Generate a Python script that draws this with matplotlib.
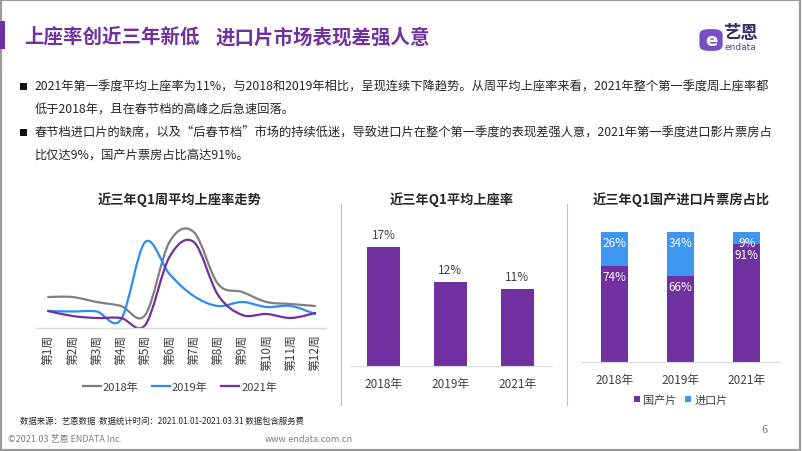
import matplotlib
matplotlib.use("Agg")
import matplotlib.pyplot as plt
import numpy as np
from matplotlib.path import Path
from matplotlib.patches import PathPatch, Rectangle, FancyBboxPatch
from matplotlib.lines import Line2D

plt.rcParams['font.family'] = ['Noto Sans CJK SC', 'DejaVu Sans']

# ---------------- data ----------------
weeks = ['第1周', '第2周', '第3周', '第4周', '第5周', '第6周',
         '第7周', '第8周', '第9周', '第10周', '第11周', '第12周']
rate_2018 = [12.4, 12.4, 10.4, 8.8, 5.2, 34.4, 38.4, 17.6, 14.4, 10.4, 9.6, 8.8]
rate_2019 = [6.8, 6.6, 6.6, 3.4, 34.4, 21.6, 12.8, 8.8, 10.4, 8.4, 8.8, 5.6]
rate_2021 = [6.8, 4.8, 4.0, 4.0, 1.2, 28.4, 34.4, 13.2, 5.2, 5.6, 4.0, 6.0]
line_series = ['2018年', '2019年', '2021年']

years = ['2018年', '2019年', '2021年']
avg_rate = [17, 12, 11]

domestic_share = [74, 66, 91]
imported_share = [26, 34, 9]
share_series = ['国产片', '进口片']

# ---------------- style ----------------
PURPLE = '#7030A0'
BLUE_LINE = '#2E8CF0'
BLUE_BAR = '#3D96F0'
GRAY = '#7F7F7F'
TEXT = '#262626'
AXIS = '#D9D9D9'

W, H = 802, 452
fig = plt.figure(figsize=(W / 100, H / 100), dpi=100)


def fx(x):
    return x / W


def fy(y):
    return 1 - y / H


def ftext(x, y, s, **kw):
    fig.text(fx(x), fy(y), s, **kw)


# outer frame
fig.patches.append(Rectangle((0.001, 0.002), 0.997, 0.995, transform=fig.transFigure,
                             fill=False, edgecolor='#9A9A9A', linewidth=1.6))

# title bar + title
fig.patches.append(Rectangle((fx(0), fy(50)), fx(5), 28 / H, transform=fig.transFigure,
                             facecolor=PURPLE, edgecolor='none'))
ftext(24, 37.5, '上座率创近三年新低', fontsize=14, fontweight='bold',
      color=PURPLE, va='center', ha='left')
ftext(216, 37.5, '进口片市场表现差强人意', fontsize=14, fontweight='bold',
      color=PURPLE, va='center', ha='left')

# logo
fig.patches.append(FancyBboxPatch((fx(701), fy(51)), 20 / W, 20 / H, transform=fig.transFigure,
                                  boxstyle='round,pad=0.002,rounding_size=0.012',
                                  facecolor='#7B4FC4', edgecolor='none'))
ftext(711, 41, 'e', fontsize=13, fontweight='bold', color='white', ha='center', va='center',
      family=['DejaVu Sans'])
ftext(740, 33, '艺恩', fontsize=12.5, fontweight='bold', color='#3A2A6A', ha='center', va='center')
ftext(740, 48, 'endata', fontsize=6.5, color='#5B3E96', ha='center', va='center',
      family=['DejaVu Sans'])

# bullets
bul = [
    (87, '2021年第一季度平均上座率为11%，与2018和2019年相比，呈现连续下降趋势。从周平均上座率来看，2021年整个第一季度周上座率都', True),
    (109, '低于2018年，且在春节档的高峰之后急速回落。', False),
    (133, '春节档进口片的缺席，以及“后春节档”市场的持续低迷，导致进口片在整个第一季度的表现差强人意，2021年第一季度进口影片票房占', True),
    (155, '比仅达9%，国产片票房占比高达91%。', False),
]
for y, s, has_bullet in bul:
    if has_bullet:
        fig.patches.append(Rectangle((fx(20), fy(y + 3.5)), 7 / W, 7 / H, transform=fig.transFigure,
                                     facecolor='#111111', edgecolor='none'))
    ftext(35, y, s, fontsize=8.8, color=TEXT, va='center', ha='left')

# chart titles
ftext(180, 200, '近三年Q1周平均上座率走势', fontsize=9.5, fontweight='bold', color=TEXT, ha='center', va='center')
ftext(452, 200, '近三年Q1平均上座率', fontsize=9.5, fontweight='bold', color=TEXT, ha='center', va='center')
ftext(681, 200, '近三年Q1国产进口片票房占比', fontsize=9.5, fontweight='bold', color=TEXT, ha='center', va='center')

# separators
for xs in (341, 567):
    fig.lines.append(Line2D([fx(xs), fx(xs)], [fy(205), fy(406)], transform=fig.transFigure,
                            color='#BFBFBF', linewidth=0.8))

# ---------------- line chart ----------------
ax1 = fig.add_axes([fx(36), fy(329), (326 - 36) / W, (329 - 220) / H])
xpos = np.arange(1, len(weeks) + 1)


def smooth_patch(xv, yv, color):
    pts = np.column_stack([xv, yv]).astype(float)
    n = len(pts)
    verts = [tuple(pts[0])]
    codes = [Path.MOVETO]
    for i in range(n - 1):
        p0 = pts[i - 1] if i > 0 else pts[i]
        p1 = pts[i]
        p2 = pts[i + 1]
        p3 = pts[i + 2] if i + 2 < n else pts[i + 1]
        c1 = p1 + (p2 - p0) / 6.0
        c2 = p2 - (p3 - p1) / 6.0
        verts += [tuple(c1), tuple(c2), tuple(p2)]
        codes += [Path.CURVE4] * 3
    return PathPatch(Path(verts, codes), fill=False, edgecolor=color, linewidth=1.6,
                     capstyle='round', joinstyle='round')


colors_line = [GRAY, BLUE_LINE, PURPLE]
for vals, c in zip([rate_2018, rate_2019, rate_2021], colors_line):
    ax1.add_patch(smooth_patch(xpos, vals, c))
ax1.set_xlim(0.5, 12.45)
ax1.set_ylim(0, (329 - 220) * 0.4)
for sp in ['top', 'right', 'left']:
    ax1.spines[sp].set_visible(False)
ax1.spines['bottom'].set_color(AXIS)
ax1.spines['bottom'].set_linewidth(1)
ax1.set_yticks([])
ax1.set_xticks(xpos)
ax1.set_xticklabels(weeks, rotation=90, fontsize=8.5, color='#404040')
ax1.tick_params(axis='x', length=0, pad=4)
handles = [Line2D([], [], color=c, linewidth=1.6) for c in colors_line]
leg = ax1.legend(handles, line_series, loc='center', frameon=False, ncol=3, fontsize=8,
                 handlelength=1.6, handletextpad=0.2, columnspacing=1.2)
leg.set_bbox_to_anchor((fx(180), fy(388)), transform=fig.transFigure)
for t in leg.get_texts():
    t.set_color('#404040')

# ---------------- average rate bars ----------------
ax2 = fig.add_axes([fx(350), fy(367), 202 / W, (367 - 230) / H])
xb = np.arange(len(years))
ax2.bar(xb, avg_rate, width=0.49, color=PURPLE)
for xi, v in zip(xb, avg_rate):
    ax2.annotate(f'{v}%', (xi, v), xytext=(0, 4), textcoords='offset points',
                 ha='center', va='bottom', fontsize=8.5, color='#404040')
ax2.set_xlim(-0.5, 2.52)
ax2.set_ylim(0, 137 / 7.0)
for sp in ['top', 'right', 'left']:
    ax2.spines[sp].set_visible(False)
ax2.spines['bottom'].set_color(AXIS)
ax2.set_yticks([])
ax2.set_xticks(xb)
ax2.set_xticklabels(years, fontsize=8.5, color='#404040')
ax2.tick_params(axis='x', length=0, pad=8)

# ---------------- stacked share bars ----------------
ax3 = fig.add_axes([fx(581), fy(363), 199 / W, (363 - 225) / H])
xs3 = np.arange(len(years))
ax3.bar(xs3, domestic_share, width=0.41, color=PURPLE, label=share_series[0])
ax3.bar(xs3, imported_share, width=0.41, bottom=domestic_share, color=BLUE_BAR, label=share_series[1])
for xi, d, im in zip(xs3, domestic_share, imported_share):
    ax3.annotate(f'{d}%', (xi, d), xytext=(0, -3), textcoords='offset points',
                 ha='center', va='top', fontsize=8.5, color='white')
    ax3.annotate(f'{im}%', (xi, d + im), xytext=(0, -3), textcoords='offset points',
                 ha='center', va='top', fontsize=8.5, color='white')
ax3.set_xlim(-0.5, 2.5)
ax3.set_ylim(0, 100 * 138 / 130)
for sp in ['top', 'right', 'left']:
    ax3.spines[sp].set_visible(False)
ax3.spines['bottom'].set_color(AXIS)
ax3.set_yticks([])
ax3.set_xticks(xs3)
ax3.set_xticklabels(years, fontsize=8.5, color='#404040')
ax3.tick_params(axis='x', length=0, pad=8)
leg3 = ax3.legend(loc='center', frameon=False, ncol=2, fontsize=8, handlelength=0.5, handleheight=0.5,
                  handletextpad=0.3, columnspacing=0.8)
leg3.set_bbox_to_anchor((fx(681), fy(401)), transform=fig.transFigure)
for t in leg3.get_texts():
    t.set_color('#404040')

# ---------------- footer ----------------
ftext(20, 421, '数据来源：艺恩数据  数据统计时间：2021.01.01-2021.03.31 数据包含服务费',
      fontsize=6, color=TEXT, va='center', ha='left')
ftext(8, 440, '©2021.03 艺恩 ENDATA Inc.', fontsize=6.5, color='#7F7F7F', va='center', ha='left')
ftext(265, 440, 'www.endata.com.cn', fontsize=6.5, color='#7F7F7F', va='center', ha='left')
ftext(765, 430, '6', fontsize=8, color='#7F7F7F', va='center', ha='center')

fig.savefig('out.png', dpi=100)
